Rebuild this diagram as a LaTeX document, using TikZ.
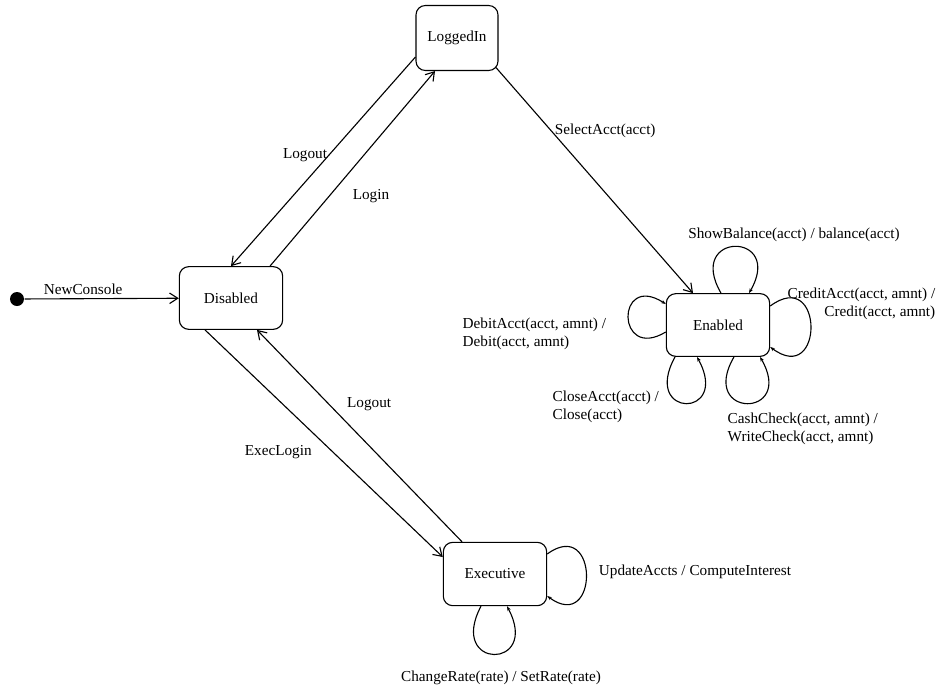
\documentclass[tikz,border=0pt]{standalone}
\usepackage{fontspec}
\setmainfont{Liberation Serif}
\usetikzlibrary{arrows.meta}

\tikzset{
  state/.style={draw,rounded corners=8pt,minimum width=3.1cm,minimum height=1.88cm,
    font=\fontsize{13}{15}\selectfont},
  lbl/.style={font=\fontsize{13}{15}\selectfont,inner sep=1pt},
  loopy/.style={-{Stealth[length=4pt,width=3pt]}},
}

\begin{document}
\begin{tikzpicture}[x=0.03cm,y=-0.03cm,>={Straight Barb[length=7pt,width=9pt]},line width=0.95pt]
    \useasboundingbox (0,0) rectangle (948,690);

    \node[fill,circle,inner sep=0pt,minimum size=0.42cm] (init) at (17,299) {};
    \node[state] (dis) at (231,298) {Disabled};
    \node[state,minimum width=2.46cm,minimum height=1.95cm] (li) at (457,38) {LoggedIn};
    \node[state] (en) at (718,325) {Enabled};
    \node[state,minimum height=1.9cm] (ex) at (495,574) {Executive};

    \draw[->] (init) -- node[lbl,pos=0.38,above=2pt] {NewConsole} (dis);
    \draw[->] ([shift={(0,19)}]li.west) -- node[lbl,pos=0.47,left] {Logout} (dis.north);
    \draw[->] ([shift={(39,0)}]dis.north) -- node[lbl,pos=0.36,right=0.65cm] {Login} ([shift={(-22,0)}]li.south);
    \draw[->] ([shift={(-3,-4)}]li.south east) -- node[lbl,pos=0.28,right=2pt] {SelectAcct(acct)} ([shift={(-25,0)}]en.north);
    \draw[->] ([shift={(-26,0)}]dis.south) -- node[lbl,pos=0.54,left=0.6cm] {ExecLogin} ([shift={(0,-17)}]ex.west);
    \draw[->] ([shift={(-33,0)}]ex.north) -- node[lbl,pos=0.65,right=0.5cm] {Logout} ([shift={(26,0)}]dis.south);

    % self transitions of Enabled
    \draw[loopy] ([shift={(3,0)}]en.north) .. controls +(-36,-62) and +(36,-62) .. ([shift={(31,0)}]en.north);
    \draw[loopy] ([shift={(0,-19)}]en.east) .. controls +(54,-40) and +(54,40) .. ([shift={(0,22)}]en.east);
    \draw[loopy] ([shift={(0,7)}]en.west) .. controls +(-50,30) and +(-50,-32) .. ([shift={(0,-21)}]en.west);
    \draw[loopy] ([shift={(-43,0)}]en.south) .. controls +(-34,62) and +(34,62) .. ([shift={(-21,0)}]en.south);
    \draw[loopy] ([shift={(16,0)}]en.south) .. controls +(-36,62) and +(36,62) .. ([shift={(42,0)}]en.south);

    % self transitions of Executive
    \draw[loopy] ([shift={(0,-20)}]ex.east) .. controls +(52,-38) and +(52,38) .. ([shift={(0,22)}]ex.east);
    \draw[loopy] ([shift={(-14,0)}]ex.south) .. controls +(-34,64) and +(34,64) .. ([shift={(12,0)}]ex.south);

    \node[lbl] (show) at (794,235) {ShowBalance(acct) / balance(acct)};
    \node[lbl,anchor=east,align=right] (credit) at (937,304) {CreditAcct(acct, amnt) /\\Credit(acct, amnt)};
    \node[lbl,anchor=west,align=left] (debit) at (461,334) {DebitAcct(acct, amnt) /\\Debit(acct, amnt)};
    \node[lbl,anchor=west,align=left] (close) at (551,407) {CloseAcct(acct) /\\Close(acct)};
    \node[lbl,anchor=west,align=left] (cash) at (726,429) {CashCheck(acct, amnt) /\\WriteCheck(acct, amnt)};
    \node[lbl] (update) at (695,572) {UpdateAccts / ComputeInterest};
    \node[lbl] (change) at (501,678) {ChangeRate(rate) / SetRate(rate)};
\end{tikzpicture}
\end{document}
